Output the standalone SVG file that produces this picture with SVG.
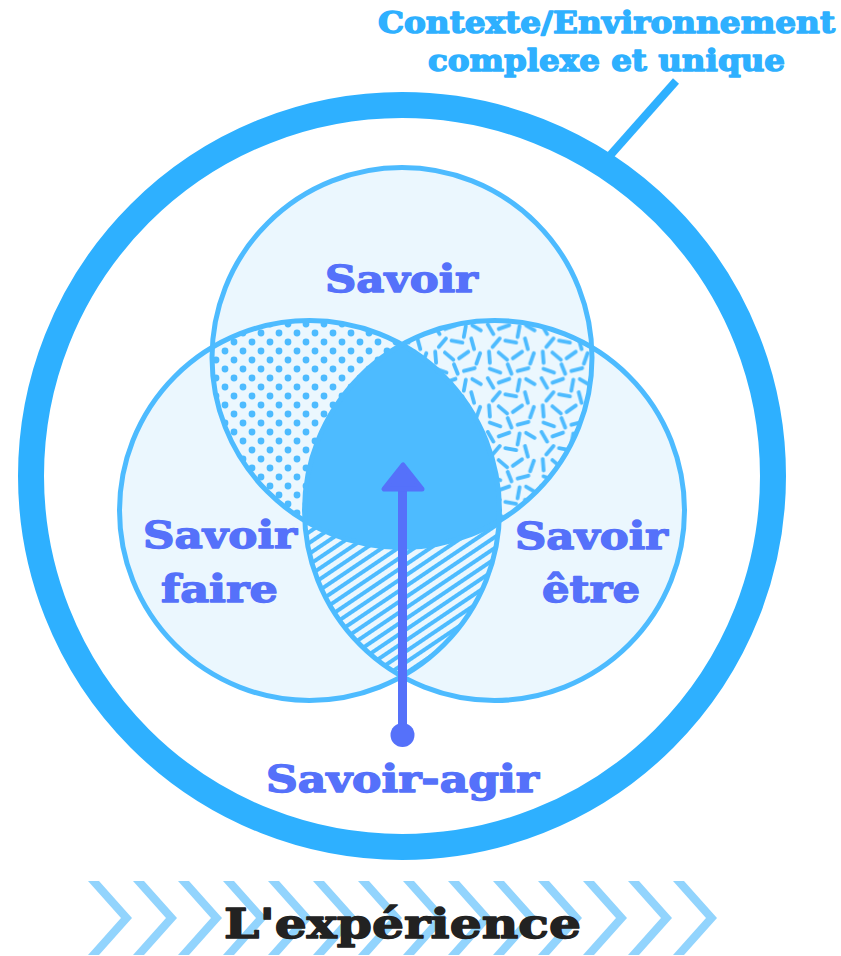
<svg xmlns="http://www.w3.org/2000/svg" width="841" height="956" viewBox="0 0 841 956">
<style>
.lbl{font-family:"DejaVu Serif","Liberation Serif",serif;font-weight:bold;text-anchor:middle;stroke-width:1.4;stroke-linejoin:round}
.blue{fill:#5571fa;stroke:#5571fa}
.cfill{fill:#ebf7fe}
.cstroke{fill:none;stroke:#4dbbff;stroke-width:5}
.chev{fill:#92d4fd}
</style>
<defs>
<clipPath id="cTop"><circle cx="402" cy="357.5" r="190"/></clipPath>
<clipPath id="cLeft"><circle cx="309.5" cy="510.5" r="190"/></clipPath>
<clipPath id="cRight"><circle cx="494.5" cy="510.5" r="190"/></clipPath>
<pattern id="pDots" width="18" height="18" patternUnits="userSpaceOnUse">
<rect width="18" height="18" fill="#ebf7fe"/>
<g fill="#4dbbff"><circle cx="0" cy="0" r="3.4"/><circle cx="18" cy="0" r="3.4"/><circle cx="9" cy="9" r="3.4"/><circle cx="0" cy="18" r="3.4"/><circle cx="18" cy="18" r="3.4"/></g>
</pattern>
<pattern id="pDash" width="48" height="48" patternUnits="userSpaceOnUse" patternTransform="scale(1.12)">
<rect width="48" height="48" fill="#ebf7fe"/>
<g stroke="#4dbbff" stroke-width="3.4" stroke-linecap="round">
<line x1="3.5" y1="1.7" x2="8.5" y2="10.3"/>
<line x1="13.3" y1="5.7" x2="22.7" y2="2.3"/>
<line x1="31.9" y1="3.1" x2="30.1" y2="12.9"/>
<line x1="37.7" y1="2.5" x2="45.3" y2="7"/>
<line x1="14.2" y1="14.2" x2="7.8" y2="21.8"/>
<line x1="19.1" y1="16.1" x2="28.9" y2="17.9"/>
<line x1="36.7" y1="14.2" x2="39.3" y2="23.8"/>
<line x1="4.6" y1="26" x2="5.4" y2="36"/>
<line x1="13.2" y1="26.8" x2="20.8" y2="33.2"/>
<line x1="34.1" y1="26.1" x2="25.9" y2="31.9"/>
<line x1="44.7" y1="27.3" x2="41.3" y2="36.7"/>
<line x1="5.3" y1="41.3" x2="14.7" y2="44.7"/>
<line x1="21.3" y1="37.3" x2="24.7" y2="45.7"/>
<line x1="39.8" y1="40.7" x2="30.2" y2="43.3"/>
</g>
</pattern>
<pattern id="pHatch" width="9" height="9" patternUnits="userSpaceOnUse" patternTransform="rotate(-34)">
<rect width="9" height="9" fill="#ebf7fe"/>
<rect x="0" y="0" width="9" height="4" fill="#4dbbff"/>
</pattern>
</defs>
<rect width="841" height="956" fill="#ffffff"/>

<g id="context">
<circle cx="402" cy="476" r="371" fill="none" stroke="#2eb0ff" stroke-width="26"/>
<text class="lbl" x="606.5" y="33" font-size="29" fill="#2eb0ff" stroke="#2eb0ff" textLength="457" lengthAdjust="spacingAndGlyphs">Contexte/Environnement</text>
<text class="lbl" x="606.5" y="71" font-size="29" fill="#2eb0ff" stroke="#2eb0ff" textLength="357" lengthAdjust="spacingAndGlyphs">complexe et unique</text>
</g>

<g id="connectors">
<line x1="606" y1="160" x2="676" y2="81" stroke="#2eb0ff" stroke-width="8"/>
</g>

<g id="venn">
<circle class="cfill" cx="402" cy="357.5" r="190"/>
<circle class="cfill" cx="309.5" cy="510.5" r="190"/>
<circle class="cfill" cx="494.5" cy="510.5" r="190"/>
<g clip-path="url(#cTop)"><rect clip-path="url(#cLeft)" x="0" y="0" width="841" height="956" fill="url(#pDots)"/></g>
<g clip-path="url(#cTop)"><rect clip-path="url(#cRight)" x="0" y="0" width="841" height="956" fill="url(#pDash)"/></g>
<g clip-path="url(#cLeft)"><rect clip-path="url(#cRight)" x="0" y="0" width="841" height="956" fill="url(#pHatch)"/></g>
<g clip-path="url(#cTop)"><g clip-path="url(#cLeft)"><rect clip-path="url(#cRight)" x="0" y="0" width="841" height="956" fill="#4dbbff"/></g></g>
<circle class="cstroke" cx="402" cy="357.5" r="190"/>
<circle class="cstroke" cx="309.5" cy="510.5" r="190"/>
<circle class="cstroke" cx="494.5" cy="510.5" r="190"/>
</g>

<g id="savoir">
<text class="lbl blue" x="401.5" y="292" font-size="38" textLength="153" lengthAdjust="spacingAndGlyphs">Savoir</text>
</g>
<g id="savoir-faire">
<text class="lbl blue" x="220" y="548" font-size="38" textLength="154" lengthAdjust="spacingAndGlyphs">Savoir</text>
<text class="lbl blue" x="219.5" y="602" font-size="38" textLength="117" lengthAdjust="spacingAndGlyphs">faire</text>
</g>
<g id="savoir-etre">
<text class="lbl blue" x="591.5" y="549" font-size="38" textLength="153" lengthAdjust="spacingAndGlyphs">Savoir</text>
<text class="lbl blue" x="591" y="602" font-size="38" textLength="98" lengthAdjust="spacingAndGlyphs">être</text>
</g>

<g id="savoir-agir">
<line x1="402.5" y1="735" x2="402.5" y2="485" stroke="#5571fa" stroke-width="9"/>
<polygon points="403,465 384,489 422,489" fill="#5571fa" stroke="#5571fa" stroke-width="5" stroke-linejoin="round"/>
<circle cx="402.5" cy="735" r="12" fill="#5571fa"/>
<text class="lbl blue" x="402.5" y="792" font-size="38" textLength="273" lengthAdjust="spacingAndGlyphs">Savoir-agir</text>
</g>

<g id="experience">
<g class="chev">
<polygon points="88,881 99,881 132,918 99,955 88,955 121,918"/>
<polygon points="133,881 144,881 177,918 144,955 133,955 166,918"/>
<polygon points="178,881 189,881 222,918 189,955 178,955 211,918"/>
<polygon points="223,881 234,881 267,918 234,955 223,955 256,918"/>
<polygon points="268,881 279,881 312,918 279,955 268,955 301,918"/>
<polygon points="313,881 324,881 357,918 324,955 313,955 346,918"/>
<polygon points="358,881 369,881 402,918 369,955 358,955 391,918"/>
<polygon points="403,881 414,881 447,918 414,955 403,955 436,918"/>
<polygon points="448,881 459,881 492,918 459,955 448,955 481,918"/>
<polygon points="493,881 504,881 537,918 504,955 493,955 526,918"/>
<polygon points="538,881 549,881 582,918 549,955 538,955 571,918"/>
<polygon points="583,881 594,881 627,918 594,955 583,955 616,918"/>
<polygon points="628,881 639,881 672,918 639,955 628,955 661,918"/>
<polygon points="673,881 684,881 717,918 684,955 673,955 706,918"/>
</g>
<text class="lbl" x="402.5" y="938" font-size="41" fill="#222222" stroke="#222222" textLength="357" lengthAdjust="spacingAndGlyphs">L'expérience</text>
</g>
</svg>
